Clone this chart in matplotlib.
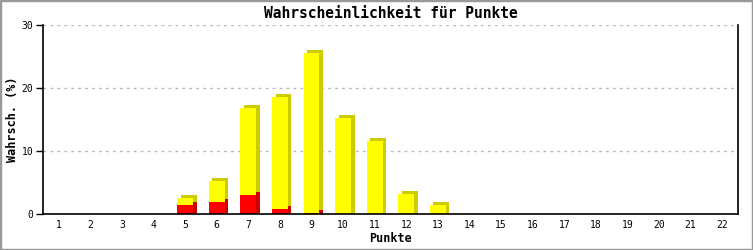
import matplotlib
matplotlib.use('Agg')
import matplotlib.pyplot as plt
import matplotlib.transforms as mtransforms
import numpy as np

punkte = list(range(1, 23))
gesamt = [0, 0, 0, 0, 2.6, 5.3, 16.9, 18.5, 25.6, 15.3, 11.6, 3.2, 1.4,
          0, 0, 0, 0, 0, 0, 0, 0, 0]
rot = [0, 0, 0, 0, 1.5, 1.9, 3.0, 0.8, 0.1, 0, 0, 0, 0,
       0, 0, 0, 0, 0, 0, 0, 0, 0]

fig = plt.figure(figsize=(7.53, 2.5), dpi=100)
ax = fig.add_axes([43/753, 36/250, 695/753, 189/250])

# 3D-Tiefe: versetzte dunkle Balken hinter den Vorderflaechen
tiefe = mtransforms.offset_copy(ax.transData, fig=fig, x=3.5, y=3, units='dots')
unten = -0.5  # Schatten bis zur Achse herunterziehen
breite = 0.5
x = np.array(punkte)
g = np.array(gesamt)
r = np.array(rot)
sichtbar = g > 0
rs = r > 0
ax.bar(x[sichtbar], g[sichtbar] - unten, bottom=unten, width=breite, color='#cccc00',
       transform=tiefe, zorder=2)
ax.bar(x[rs], r[rs] - unten, bottom=unten, width=breite, color='#cc0000',
       transform=tiefe, zorder=2.5)
ax.bar(x[sichtbar], g[sichtbar], width=breite, color='#ffff00', zorder=3)
ax.bar(x[rs], r[rs], width=breite, color='#ff0000', zorder=5)

ax.set_xlim(0.5, 22.5)
ax.set_ylim(0, 30)
ax.set_xticks(punkte)
ax.set_yticks([0, 10, 20, 30])
ax.tick_params(axis='x', length=0, pad=4, labelsize=7)
ax.tick_params(axis='y', length=5, width=1, direction='out', pad=2, labelsize=7)
for lab in ax.get_xticklabels() + ax.get_yticklabels():
    lab.set_family('DejaVu Sans Mono')

ax.grid(axis='y', color='#bbbbbb', linestyle=(0, (2, 3)), linewidth=1, zorder=0)
ax.set_axisbelow(True)
ax.spines['top'].set_visible(False)
for s in ['left', 'bottom', 'right']:
    ax.spines[s].set_linewidth(1.2)
    ax.spines[s].set_zorder(6)

ax.set_title('Wahrscheinlichkeit für Punkte', family='DejaVu Sans Mono',
             fontweight='bold', fontsize=10.5, pad=5)
ax.set_xlabel('Punkte', family='DejaVu Sans Mono', fontweight='bold', fontsize=8.5, labelpad=2)
ax.set_ylabel('Wahrsch. (%)', family='DejaVu Sans Mono', fontweight='bold', fontsize=8.5, labelpad=2)

rahmen = plt.Rectangle((0, 0), 1, 1, transform=fig.transFigure, fill=False,
                       edgecolor='#999999', linewidth=2.5)
fig.patches.append(rahmen)

fig.savefig('out.png', dpi=100)
